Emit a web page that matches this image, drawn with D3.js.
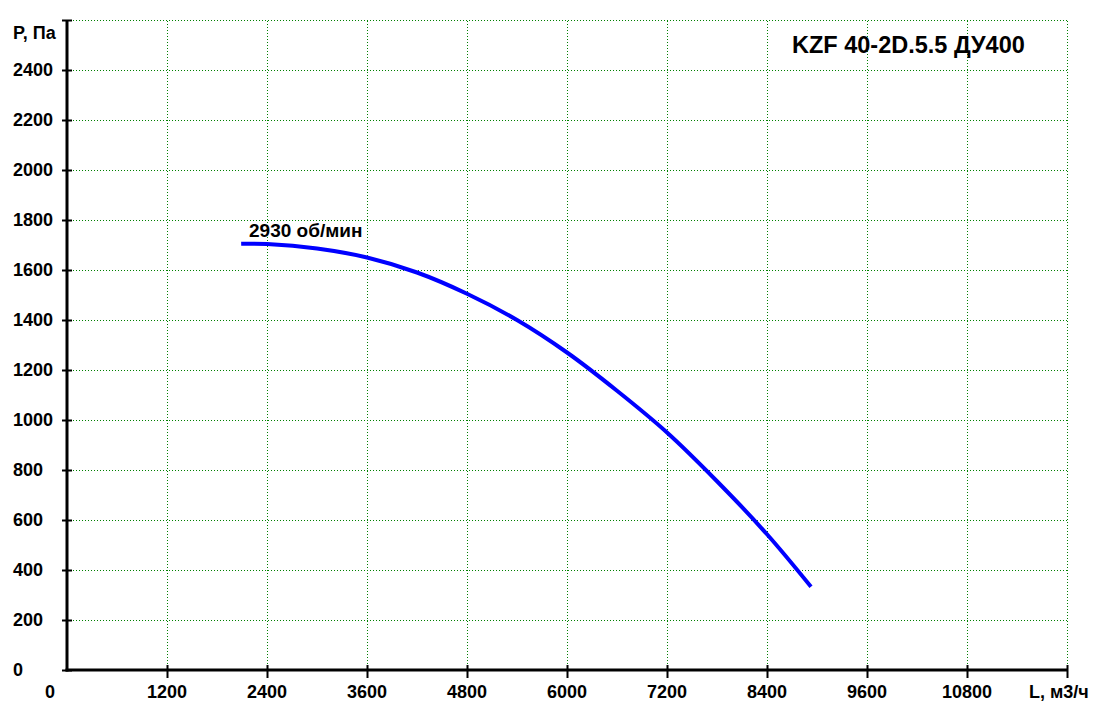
<!DOCTYPE html>
<html>
<head>
<meta charset="utf-8">
<script src="https://cdn.jsdelivr.net/npm/d3@7"></script>
<style>
  body { margin: 0; background: #fff; }
  text { font-family: "Liberation Sans", Arial, sans-serif; font-weight: bold; fill: #000; }
</style>
</head>
<body>
<div class="chart"></div>
<script>
// fan curve
const flowPoints = [2090, 2400, 3000, 3600, 4200, 4800, 5400, 6000, 6600, 7200, 7800, 8400, 8928];
const pressurePoints = [1705, 1704, 1686, 1650, 1590, 1505, 1400, 1270, 1117, 950, 755, 543, 333];

const xTicks = [0, 1200, 2400, 3600, 4800, 6000, 7200, 8400, 9600, 10800];
const yTicks = [0, 200, 400, 600, 800, 1000, 1200, 1400, 1600, 1800, 2000, 2200, 2400];
const xGrid = [1200, 2400, 3600, 4800, 6000, 7200, 8400, 9600, 10800, 12000];
const yGrid = [200, 400, 600, 800, 1000, 1200, 1400, 1600, 1800, 2000, 2200, 2400, 2600];

const titleText = "KZF 40-2D.5.5 ДУ400";
const curveLabel = "2930 об/мин";
const xTitle = "L, м3/ч";
const yTitle = "P, Па";

const svg = d3.select(".chart").append("svg")
              .attr("width", 1100)
              .attr("height", 717);

const x = d3.scaleLinear().domain([0, 12000]).range([67, 1067]);
const y = d3.scaleLinear().domain([0, 2600]).range([670, 20]);

// grid
svg.append("g").selectAll("line")
   .data(yGrid)
   .enter().append("line")
   .attr("x1", x(0)).attr("x2", x(12000))
   .attr("y1", d => y(d) + 0.5).attr("y2", d => y(d) + 0.5)
   .attr("stroke", "#008000")
   .attr("stroke-dasharray", "1,2");

svg.append("g").selectAll("line")
   .data(xGrid)
   .enter().append("line")
   .attr("x1", d => x(d) + 0.5).attr("x2", d => x(d) + 0.5)
   .attr("y1", y(0)).attr("y2", y(2600))
   .attr("stroke", "#008000")
   .attr("stroke-dasharray", "1,2");

// axes
const yAxis = svg.append("g")
   .attr("transform", "translate(" + x(0) + ",0)")
   .call(d3.axisLeft(y).tickValues(yGrid.concat([0])).tickFormat("").tickSizeOuter(0));
const xAxis = svg.append("g")
   .attr("transform", "translate(0," + y(0) + ")")
   .call(d3.axisBottom(x).tickValues(xGrid).tickFormat("").tickSizeOuter(0));

[yAxis, xAxis].forEach(a => {
  a.select(".domain").attr("stroke", "#000").attr("stroke-width", 3);
  a.selectAll(".tick line").attr("stroke", "#000").attr("stroke-width", 2);
});
yAxis.select(".domain").attr("d", "M0," + y(2600) + "V" + (y(0) + 1.5));
xAxis.select(".domain").attr("d", "M" + (x(0) - 1.5) + ",0H" + x(12000));
yAxis.selectAll(".tick line").attr("x1", 5).attr("x2", -5);
xAxis.selectAll(".tick line").attr("y1", -5).attr("y2", 8);

// tick labels
svg.append("g").selectAll("text")
   .data(yTicks)
   .enter().append("text")
   .attr("x", 13)
   .attr("y", d => y(d) + 6)
   .attr("font-size", 18)
   .text(d => d);

svg.append("g").selectAll("text")
   .data(xTicks)
   .enter().append("text")
   .attr("x", d => d === 0 ? 50 : x(d))
   .attr("y", 698)
   .attr("text-anchor", "middle")
   .attr("font-size", 18)
   .text(d => d);

svg.append("text").attr("x", 13).attr("y", 39).attr("font-size", 18).text(yTitle);
svg.append("text").attr("x", 1029).attr("y", 698).attr("font-size", 18).text(xTitle);
svg.append("text").attr("x", 792).attr("y", 53).attr("font-size", 23.5).text(titleText);

// curve
const line = d3.line()
   .x((d, i) => x(flowPoints[i]))
   .y(d => y(d))
   .curve(d3.curveCatmullRom);

svg.append("path")
   .datum(pressurePoints)
   .attr("d", line)
   .attr("fill", "none")
   .attr("stroke", "#0000ff")
   .attr("stroke-width", 4);

svg.append("text")
   .attr("x", 249)
   .attr("y", 237)
   .attr("font-size", 19)
   .text(curveLabel);
</script>
</body>
</html>
